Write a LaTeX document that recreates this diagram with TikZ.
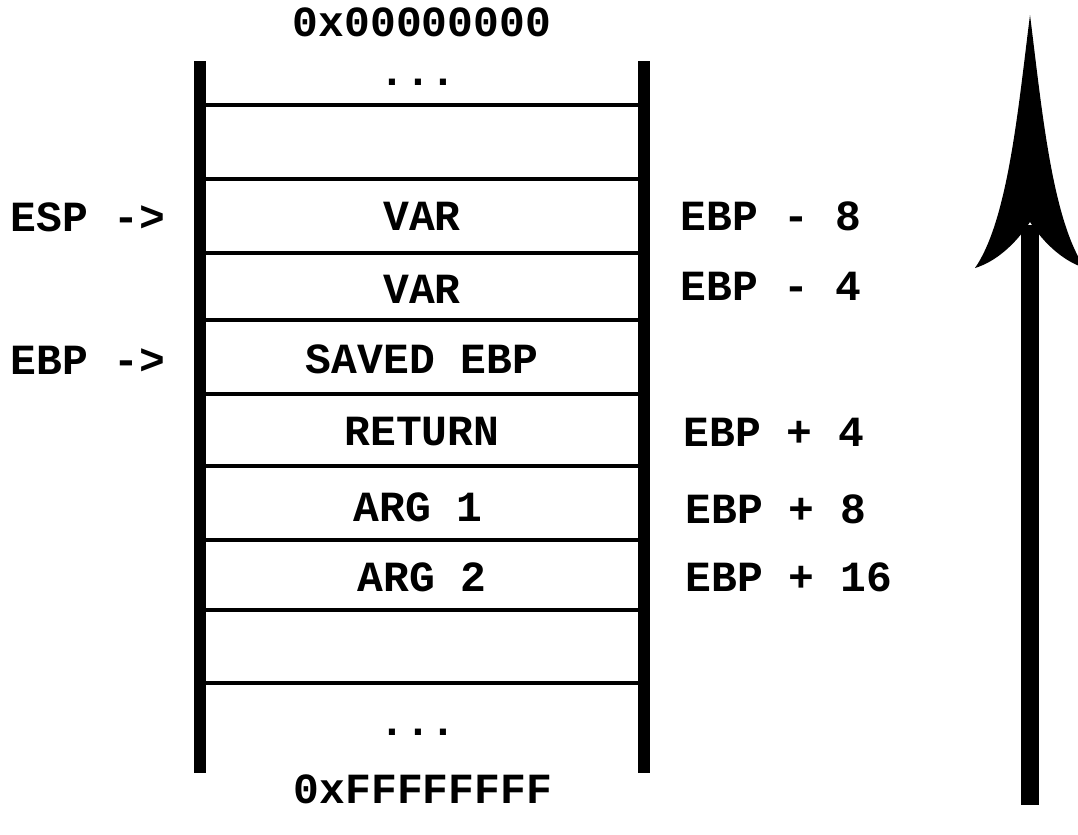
\documentclass[tikz,border=0pt]{standalone}
\usepackage{fontspec}
\setmainfont{Liberation Mono}
\begin{document}
\begin{tikzpicture}[x=0.5pt,y=-0.5pt,
  txt/.style={inner sep=0pt,font=\fontsize{21.5}{26}\selectfont\bfseries},
  lbl/.style={txt,anchor=west},
  bar/.style={line width=6pt},
  sep/.style={line width=2pt}]
\useasboundingbox (0,0) rectangle (1078,835);
% vertical bars
\coordinate (lt) at (200,61); \coordinate (lb) at (200,773);
\coordinate (rt) at (644,61); \coordinate (rb) at (644,773);
\draw[bar] (lt) -- (lb);
\draw[bar] (rt) -- (rb);
% horizontal separators
\foreach \y in {105,179,253,320,394,466,540,610,683}
  \draw[sep] (200,\y) -- (644,\y);
% addresses
\node[txt] (top) at (422,22) {0x00000000};
\node[txt] (bot) at (423,789) {0xFFFFFFFF};
\node[txt] (d1) at (418,82) {...};
\node[txt] (d2) at (418,732) {...};
% cells
\node[txt] (c1) at (422,216) {VAR};
\node[txt] (c2) at (422,289) {VAR};
\node[txt] (c3) at (422,359) {SAVED EBP};
\node[txt] (c4) at (422,432) {RETURN};
\node[txt] (c5) at (418,507) {ARG 1};
\node[txt] (c6) at (422,577) {ARG 2};
% pointers
\node[lbl] (esp) at (10,217) {ESP ->};
\node[lbl] (ebp) at (10,360) {EBP ->};
% offsets
\node[lbl] (o1) at (680,216) {EBP - 8};
\node[lbl] (o2) at (680,286) {EBP - 4};
\node[lbl] (o3) at (683,432) {EBP + 4};
\node[lbl] (o4) at (685,509) {EBP + 8};
\node[lbl] (o5) at (685,577) {EBP + 16};
% big arrow
\coordinate (abot) at (1030,805);
\coordinate (atip) at (1030,15);
\fill (1021,805) rectangle (1039,225);
\fill (atip) .. controls (1018,110) and (1008,220) .. (975,268)
  .. controls (995,262) and (1015,245) .. (1030,222)
  .. controls (1045,245) and (1065,262) .. (1085,268)
  .. controls (1052,220) and (1042,110) .. (atip) -- cycle;
\end{tikzpicture}
\end{document}
